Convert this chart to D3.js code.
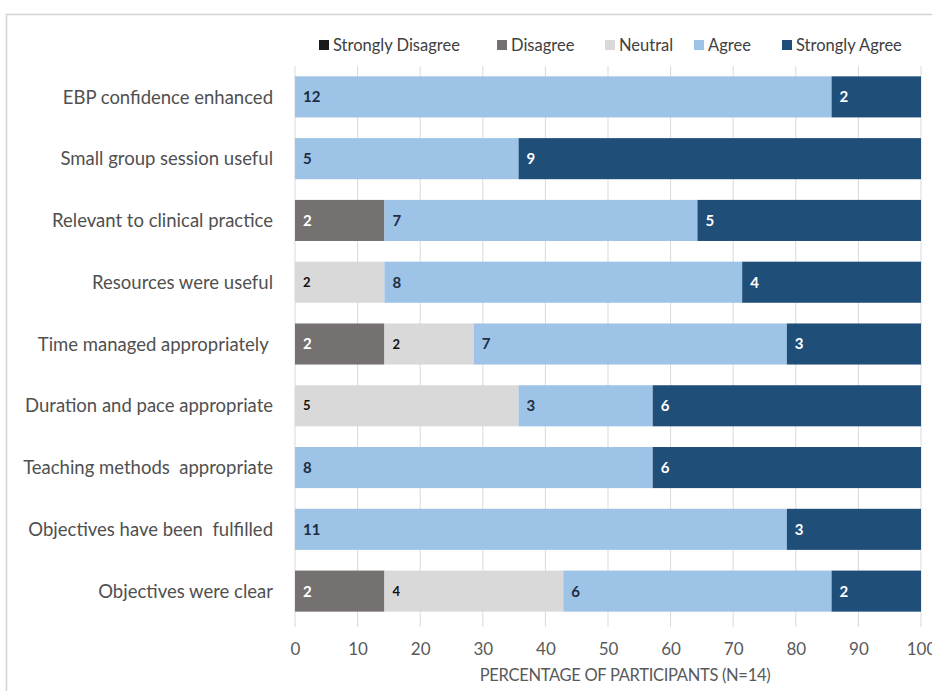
<!DOCTYPE html>
<html>
<head>
<meta charset="utf-8">
<script src="https://cdn.jsdelivr.net/npm/d3@7"></script>
<style>
  body { margin: 0; background: #fff; }
  svg { display: block; font-family: Lato, "Open Sans", sans-serif; }
</style>
</head>
<body>
<svg id="chart"></svg>
<script>
var categories = [
  "EBP confidence enhanced",
  "Small group session useful",
  "Relevant to clinical practice",
  "Resources were useful",
  "Time managed appropriately ",
  "Duration and pace appropriate",
  "Teaching methods  appropriate",
  "Objectives have been  fulfilled",
  "Objectives were clear"
];
var seriesNames = ["Strongly Disagree", "Disagree", "Neutral", "Agree", "Strongly Agree"];
var stronglyDisagree = [0, 0, 0, 0, 0, 0, 0, 0, 0];
var disagree = [0, 0, 2, 0, 2, 0, 0, 0, 2];
var neutral = [0, 0, 0, 2, 2, 5, 0, 0, 4];
var agree = [12, 5, 7, 8, 7, 3, 8, 11, 6];
var stronglyAgree = [2, 9, 5, 4, 3, 6, 6, 3, 2];
var xTicks = [0, 10, 20, 30, 40, 50, 60, 70, 80, 90, 100];
var N = 14;

var colors = ["#1a1a1a", "#767171", "#d9d9d9", "#9dc3e6", "#1f4e79"];
var labelColors = ["#ffffff", "#ffffff", "#111111", "#1c2e45", "#ffffff"];

var width = 932, height = 691;
var svg = d3.select("#chart").attr("width", width).attr("height", height);

// frame
svg.append("rect")
  .attr("x", 6.5).attr("y", 14.5)
  .attr("width", 940).attr("height", 700)
  .attr("fill", "none").attr("stroke", "#d4d4d4").attr("stroke-width", 1.5);

var margin = {left: 295, right: 11, top: 66, bottom: 69};

var x = d3.scaleLinear().domain([0, 100]).range([margin.left, width - margin.right]);
var y = d3.scaleBand().domain(categories)
  .range([margin.top, height - margin.bottom])
  .paddingInner(0.335).paddingOuter(0.1675);

// gridlines
svg.append("g").selectAll("line").data(xTicks).enter().append("line")
  .attr("x1", function(d) { return x(d); })
  .attr("x2", function(d) { return x(d); })
  .attr("y1", margin.top)
  .attr("y2", height - margin.bottom + 5)
  .attr("stroke", "#d9d9d9").attr("stroke-width", 1);

// stacked data
var rows = categories.map(function(c, i) {
  return {cat: c, vals: [stronglyDisagree[i], disagree[i], neutral[i], agree[i], stronglyAgree[i]]};
});

var rowG = svg.append("g").selectAll("g").data(rows).enter().append("g");

rowG.each(function(row) {
  var g = d3.select(this);
  var cum = 0;
  row.vals.forEach(function(v, k) {
    if (v > 0) {
      var p0 = cum / N * 100, p1 = (cum + v) / N * 100;
      g.append("rect")
        .attr("x", x(p0))
        .attr("y", y(row.cat))
        .attr("width", x(p1) - x(p0))
        .attr("height", y.bandwidth())
        .attr("fill", colors[k]);
      g.append("text")
        .attr("x", x(p0) + 8)
        .attr("y", y(row.cat) + y.bandwidth() / 2)
        .attr("dy", "0.36em")
        .attr("fill", labelColors[k])
        .attr("font-weight", "bold")
        .attr("font-size", k === 2 ? 13 : 15)
        .text(v);
    }
    cum += v;
  });
});

// category labels
svg.append("g").selectAll("text").data(categories).enter().append("text")
  .attr("x", margin.left - 22)
  .attr("y", function(d) { return y(d) + y.bandwidth() / 2; })
  .attr("dy", "0.36em")
  .attr("text-anchor", "end")
  .attr("fill", "#505050")
  .attr("font-size", 18.5)
  .attr("xml:space", "preserve")
  .style("white-space", "pre")
  .text(function(d) { return d; });

// x axis
var xAxis = d3.axisBottom(x).tickValues(xTicks).tickSize(0).tickPadding(0);
var ax = svg.append("g").attr("transform", "translate(0," + (height - margin.bottom) + ")").call(xAxis);
ax.select(".domain").remove();
ax.selectAll("text")
  .attr("y", 27)
  .attr("dy", "0.36em")
  .attr("fill", "#595959")
  .attr("font-size", 17)
  .attr("font-family", "Lato, sans-serif");

svg.append("text")
  .attr("x", 625)
  .attr("y", 675)
  .attr("dy", "0.36em")
  .attr("text-anchor", "middle")
  .attr("fill", "#595959")
  .attr("font-size", 16.5)
  .attr("letter-spacing", -0.3)
  .text("PERCENTAGE OF PARTICIPANTS (N=" + N + ")");

// legend
var legendX = [319, 497, 605, 694, 782];
var lg = svg.append("g").selectAll("g").data(seriesNames).enter().append("g")
  .attr("transform", function(d, i) { return "translate(" + legendX[i] + ",45)"; });
lg.append("rect")
  .attr("x", 0).attr("y", -5).attr("width", 10).attr("height", 10)
  .attr("fill", function(d, i) { return colors[i]; });
lg.append("text")
  .attr("x", 14).attr("y", 0).attr("dy", "0.36em")
  .attr("fill", "#404040")
  .attr("font-size", 16.5)
  .text(function(d) { return d; });
</script>
</body>
</html>
